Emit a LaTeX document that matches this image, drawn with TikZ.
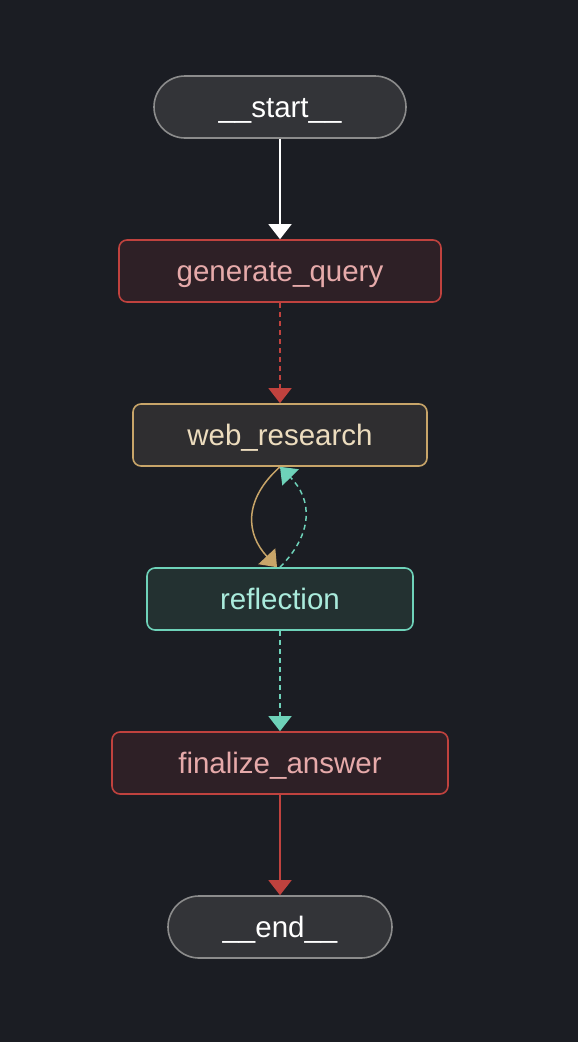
\documentclass[tikz,border=0pt]{standalone}
\usepackage{fontspec}
\setmainfont{Liberation Sans}
\usetikzlibrary{arrows.meta}
\definecolor{bg}{RGB}{27,29,35}
\definecolor{sefill}{RGB}{51,52,56}
\definecolor{sedraw}{RGB}{140,140,140}
\definecolor{rfill}{RGB}{46,32,38}
\definecolor{rdraw}{RGB}{192,66,62}
\definecolor{rtext}{RGB}{230,170,170}
\definecolor{wfill}{RGB}{47,46,48}
\definecolor{wdraw}{RGB}{200,165,105}
\definecolor{wtext}{RGB}{236,220,190}
\definecolor{tfill}{RGB}{35,49,49}
\definecolor{tdraw}{RGB}{110,210,185}
\definecolor{ttext}{RGB}{170,235,220}
\tikzset{
  base/.style={line width=1.6pt, minimum height=62pt, inner sep=0pt,
    text height=20pt, text depth=0pt,
    font=\fontsize{29.5}{33}\selectfont},
  term/.style={base, draw=sedraw, fill=sefill, text=white, rounded corners=31pt},
  redbox/.style={base, draw=rdraw, fill=rfill, text=rtext, rounded corners=8pt},
  tanbox/.style={base, draw=wdraw, fill=wfill, text=wtext, rounded corners=8pt},
  tealbox/.style={base, draw=tdraw, fill=tfill, text=ttext, rounded corners=8pt},
  edge/.style={line width=1.5pt, -{Triangle[width=23pt,length=15pt]}},
  dashy/.style={dash pattern=on 5pt off 4pt}
}
\begin{document}
\begin{tikzpicture}[x=1pt,y=1pt]
\fill[bg] (0,0) rectangle (578,-1042);
\useasboundingbox (0,0) rectangle (578,-1042);
\node[term, minimum width=252pt] (start) at (280,-107) {\_\_start\_\_};
\node[redbox, minimum width=322pt] (gen) at (280,-271) {generate\_query};
\node[tanbox, minimum width=294pt] (web) at (280,-435) {web\_research};
\node[tealbox, minimum width=266pt] (refl) at (280,-599) {reflection};
\node[redbox, minimum width=336pt] (fin) at (280,-763) {finalize\_answer};
\node[term, minimum width=224pt] (end) at (280,-927) {\_\_end\_\_};
\draw[edge, white] (start) -- (gen);
\draw[edge, rdraw, dashy] (gen) -- (web);
\draw[edge, wdraw] (web.south) .. controls (243,-500) and (246,-534) .. ([xshift=-3pt]refl.north);
\draw[edge, tdraw, dashy] (refl.north) .. controls (313,-534) and (313,-500) .. (web.south);
\draw[edge, tdraw, dashy] (refl) -- (fin);
\draw[edge, rdraw] (fin) -- (end);
\end{tikzpicture}
\end{document}
